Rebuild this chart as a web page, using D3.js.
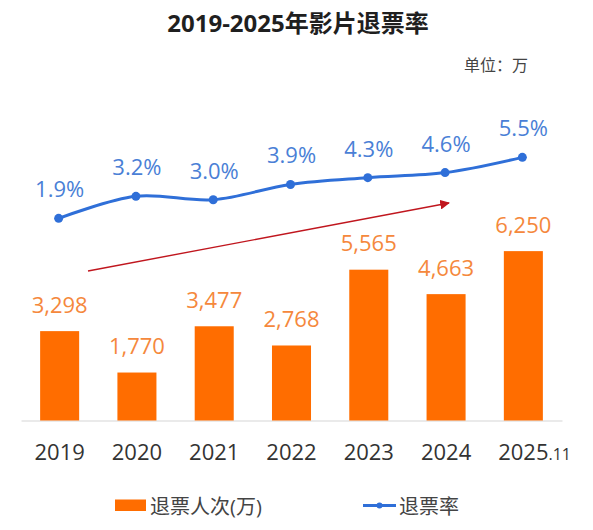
<!DOCTYPE html>
<html>
<head>
<meta charset="utf-8">
<script src="https://cdn.jsdelivr.net/npm/d3@7/dist/d3.min.js"></script>
<style>
  html, body { margin: 0; padding: 0; background: #fff; }
  svg { display: block; font-family: "Open Sans", "Noto Sans CJK SC", sans-serif; }
</style>
</head>
<body>
<svg id="chart" width="593" height="530"></svg>
<script>
"use strict";

const YEARS = ["2019", "2020", "2021", "2022", "2023", "2024", "2025.11"];
const REFUNDS = [3298, 1770, 3477, 2768, 5565, 4663, 6250];
const RATES = [1.9, 3.2, 3.0, 3.9, 4.3, 4.6, 5.5];
const LEGEND = ["退票人次(万)", "退票率"];

const BAR_COLOR = "#ff6d00";
const BAR_LABEL = "#f5883c";
const LINE_COLOR = "#2f6fd8";
const LINE_LABEL = "#4a7fd6";

const svg = d3.select("#chart");

const x = d3.scaleBand().domain(YEARS).range([21, 562]).paddingInner(0.495).paddingOuter(0.2475);
const yBar = d3.scaleLinear().domain([0, 7000]).range([420.5, 230.8]);
const yRate = d3.scaleLinear().domain([0, 6]).range([250.5, 148.9]);
const cx = function (d) { return x(d) + x.bandwidth() / 2; };

// title and unit
svg.append("text").attr("x", 298).attr("y", 32).attr("text-anchor", "middle")
  .attr("font-size", 24).attr("font-weight", "bold").attr("fill", "#1f1f1f")
  .text("2019-2025年影片退票率");
svg.append("text").attr("x", 528).attr("y", 71).attr("text-anchor", "end")
  .attr("font-size", 16).attr("fill", "#444").text("单位：万");

// baseline axis
const axis = svg.append("g").attr("transform", "translate(0,420.5)")
  .call(d3.axisBottom(x).tickSize(0).tickFormat(""));
axis.select(".domain").attr("stroke", "#e3e3e3").attr("stroke-width", 1.5);

// bars
svg.append("g").selectAll("rect").data(REFUNDS).join("rect")
  .attr("x", function (d, i) { return x(YEARS[i]); })
  .attr("y", function (d) { return yBar(d); })
  .attr("width", x.bandwidth())
  .attr("height", function (d) { return yBar(0) - yBar(d); })
  .attr("fill", BAR_COLOR);

svg.append("g").selectAll("text").data(REFUNDS).join("text")
  .attr("x", function (d, i) { return cx(YEARS[i]); })
  .attr("y", function (d) { return yBar(d) - 18.5; })
  .attr("text-anchor", "middle").attr("font-size", 22).attr("fill", BAR_LABEL)
  .text(function (d) { return d3.format(",")(d); });

// year labels, ".11" suffix drawn smaller
const yearLabels = svg.append("g").selectAll("g").data(YEARS).join("g")
  .attr("transform", function (d) { return "translate(" + cx(d) + ",460)"; });
yearLabels.each(function (d) {
  const g = d3.select(this);
  const parts = d.split(".");
  const main = g.append("text").attr("text-anchor", "middle").attr("font-size", 22)
    .attr("fill", "#333").text(parts[0]);
  if (parts.length > 1) {
    const w = main.node().getComputedTextLength();
    g.append("text").attr("x", w / 2).attr("font-size", 16).attr("fill", "#333").text("." + parts[1]);
  }
});

// trend arrow
svg.append("defs").append("marker").attr("id", "arrowHead")
  .attr("viewBox", "0 0 10 10").attr("refX", 9).attr("refY", 5)
  .attr("markerWidth", 7).attr("markerHeight", 7).attr("orient", "auto")
  .append("path").attr("d", "M0,0 L10,5 L0,10 Z").attr("fill", "#c0161e");
svg.append("line").attr("x1", 88).attr("y1", 271).attr("x2", 449).attr("y2", 203)
  .attr("stroke", "#c0161e").attr("stroke-width", 1.4).attr("marker-end", "url(#arrowHead)");

// rate line
const line = d3.line()
  .x(function (d, i) { return cx(YEARS[i]) - 1; })
  .y(function (d) { return yRate(d); })
  .curve(d3.curveCatmullRom.alpha(0.5));
svg.append("path").datum(RATES).attr("d", line).attr("fill", "none")
  .attr("stroke", LINE_COLOR).attr("stroke-width", 3).attr("stroke-linecap", "round");
svg.append("g").selectAll("circle").data(RATES).join("circle")
  .attr("cx", function (d, i) { return cx(YEARS[i]) - 1; })
  .attr("cy", function (d) { return yRate(d); })
  .attr("r", 4.5).attr("fill", LINE_COLOR);
svg.append("g").selectAll("text").data(RATES).join("text")
  .attr("x", function (d, i) { return cx(YEARS[i]); })
  .attr("y", function (d) { return yRate(d) - 21; })
  .attr("text-anchor", "middle").attr("font-size", 22).attr("fill", LINE_LABEL)
  .text(function (d) { return d.toFixed(1) + "%"; });

// legend
const legend = svg.append("g");
legend.append("rect").attr("x", 115).attr("y", 499.5).attr("width", 31).attr("height", 11.5).attr("fill", BAR_COLOR);
legend.append("text").attr("x", 150).attr("y", 514).attr("font-size", 20).attr("fill", "#444").text(LEGEND[0]);
legend.append("line").attr("x1", 363).attr("x2", 396).attr("y1", 505.5).attr("y2", 505.5)
  .attr("stroke", LINE_COLOR).attr("stroke-width", 3);
legend.append("circle").attr("cx", 379.5).attr("cy", 505.5).attr("r", 3).attr("fill", LINE_COLOR);
legend.append("text").attr("x", 399).attr("y", 514).attr("font-size", 20).attr("fill", "#444").text(LEGEND[1]);
</script>
</body>
</html>
